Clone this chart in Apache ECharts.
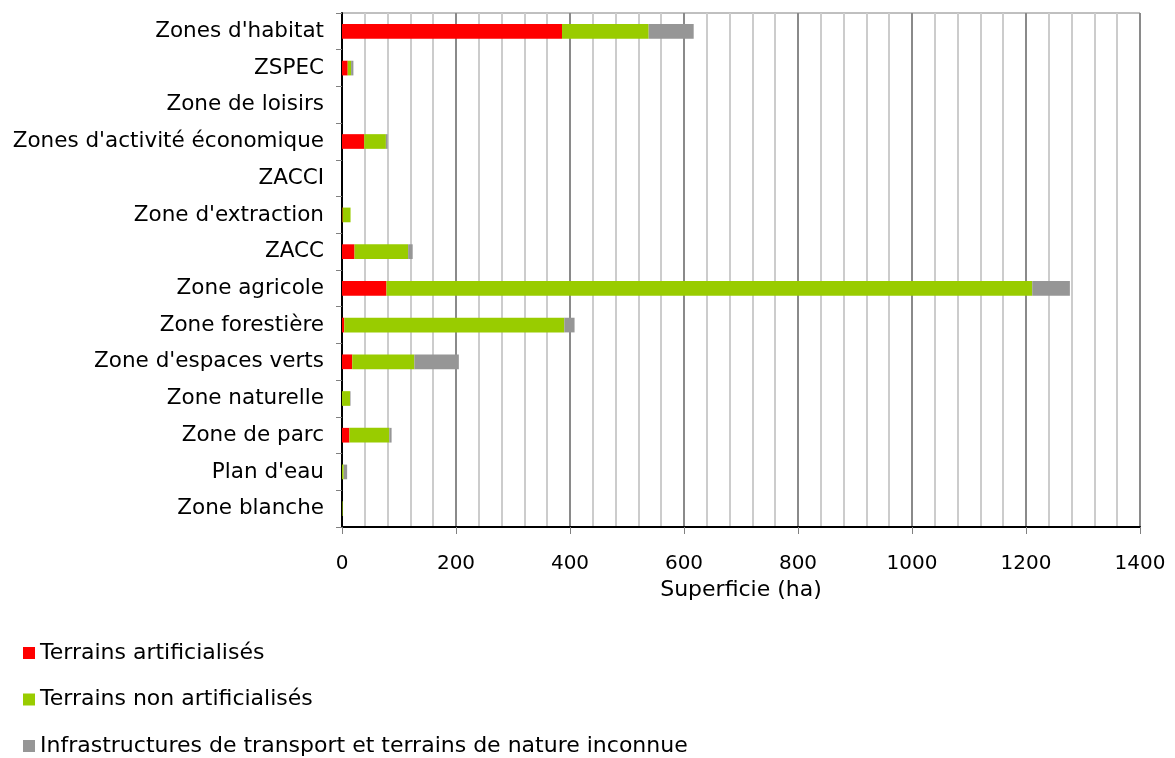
<!DOCTYPE html>
<html>
<head>
<meta charset="utf-8">
<script src="https://cdn.jsdelivr.net/npm/echarts@6/dist/echarts.min.js"></script>
<style>
html,body{margin:0;padding:0;background:#fff;}
#chart{width:1175px;height:758px;}
</style>
</head>
<body>
<div id="chart"></div>
<script>
const categories = ["Zones d'habitat", "ZSPEC", "Zone de loisirs", "Zones d'activité économique", "ZACCI", "Zone d'extraction", "ZACC", "Zone agricole", "Zone forestière", "Zone d'espaces verts", "Zone naturelle", "Zone de parc", "Plan d'eau", "Zone blanche"];
const artificialises = [386, 10, 0, 39, 0, 1, 22, 78, 4, 18, 0, 13, 0, 0];
const nonArtificialises = [152, 6, 0, 38, 0, 14, 94, 1133, 386, 109, 14, 70, 3, 1];
const infrastructures = [79, 4, 0, 3, 0, 0, 8, 66, 18, 78, 1, 4, 6, 0];
const seriesNames = ["Terrains artificialisés", "Terrains non artificialisés", "Infrastructures de transport et terrains de nature inconnue"];

const FONT = "DejaVu Sans";
const chart = echarts.init(document.getElementById('chart'), null, {renderer: 'canvas'});
const barStyle = (c) => ({color: c});
chart.setOption({
  animation: false,
  backgroundColor: '#fff',
  textStyle: {fontFamily: FONT},
  grid: {left: 342, right: 35, top: 13, bottom: 231, show: true, borderColor: '#808080', borderWidth: 1, containLabel: false},
  legend: {
    orient: 'vertical', left: 23, top: 642, padding: 0, itemGap: 24.5,
    itemWidth: 12, itemHeight: 12, icon: 'rect',
    textStyle: {fontFamily: FONT, fontSize: 22, color: '#000', padding: 0},
    data: seriesNames
  },
  xAxis: {
    type: 'value', min: 0, max: 1400, interval: 200,
    name: 'Superficie (ha)', nameLocation: 'middle', nameGap: 51,
    nameTextStyle: {fontFamily: FONT, fontSize: 22, color: '#000'},
    axisLine: {show: true, lineStyle: {color: '#000', width: 2}},
    axisTick: {show: true, length: 7, lineStyle: {color: '#808080', width: 1}},
    axisLabel: {fontFamily: FONT, fontSize: 20, color: '#000', margin: 27, formatter: (v) => String(v)},
    splitLine: {show: true, lineStyle: {color: '#8a8a8a', width: 2}},
    minorTick: {show: false, splitNumber: 5},
    minorSplitLine: {show: true, lineStyle: {color: '#cccccc', width: 2}}
  },
  yAxis: {
    type: 'category', inverse: true, data: categories,
    axisLine: {show: true, lineStyle: {color: '#000', width: 2}},
    axisTick: {show: true, length: 6, lineStyle: {color: '#808080', width: 1}},
    axisLabel: {fontFamily: FONT, fontSize: 21.5, color: '#000', margin: 18},
    splitLine: {show: false}
  },
  series: [
    {name: seriesNames[0], type: 'bar', stack: 's', data: artificialises, barCategoryGap: '60%', itemStyle: barStyle('#ff0000')},
    {name: seriesNames[1], type: 'bar', stack: 's', data: nonArtificialises, barCategoryGap: '60%', itemStyle: barStyle('#99cc00')},
    {name: seriesNames[2], type: 'bar', stack: 's', data: infrastructures, barCategoryGap: '60%', itemStyle: barStyle('#969696')}
  ]
});
</script>
</body>
</html>
